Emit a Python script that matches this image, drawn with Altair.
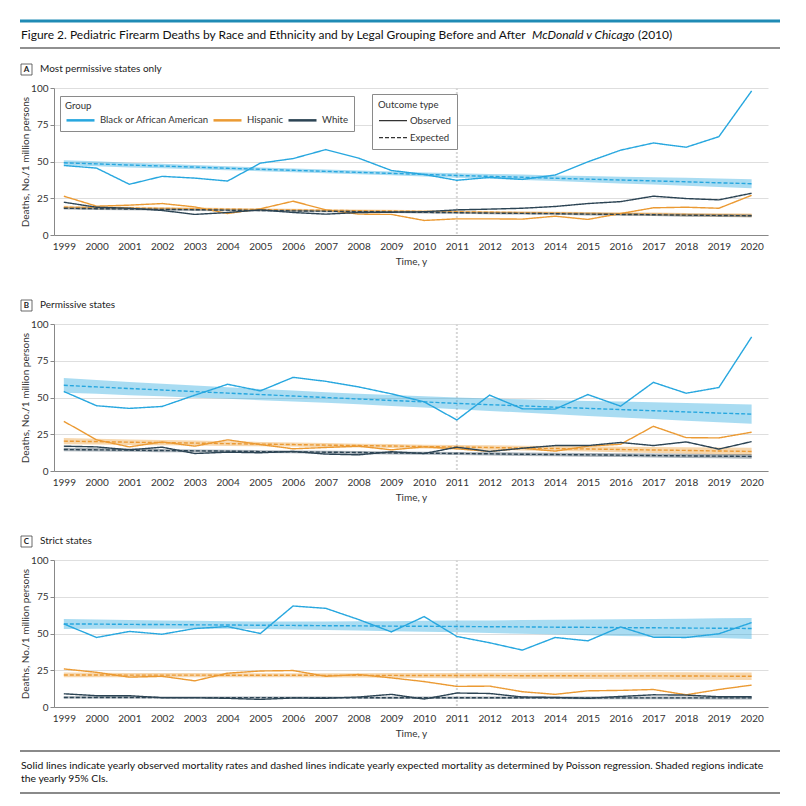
import altair as alt
import pandas as pd

years = list(range(1999, 2021))
groups = ["Black or African American", "Hispanic", "White"]
group_colors = ["#27a7df", "#eb9a33", "#2c4454"]
outcome_types = ["Observed", "Expected"]

# ---- Panel A: Most permissive states only ----
a_black_obs = [47.3, 45.5, 34.5, 39.9, 38.7, 36.7, 48.9, 52.0, 58.1, 52.3, 43.9, 41.2, 37.2, 39.2, 37.8, 40.8, 49.8, 57.7, 62.6, 59.7, 66.9, 98.0]
a_hisp_obs = [26.4, 19.6, 20.3, 21.4, 19.1, 14.6, 17.8, 23.0, 17.1, 14.2, 14.0, 9.9, 11.0, 11.0, 10.8, 12.8, 10.6, 14.6, 18.5, 18.9, 18.2, 27.0]
a_white_obs = [22.3, 18.9, 18.2, 16.7, 14.0, 15.3, 17.1, 15.3, 14.2, 15.3, 15.5, 15.8, 17.1, 17.6, 18.2, 19.4, 21.4, 22.7, 26.4, 24.8, 23.9, 28.4]
a_black_exp = [49.1, 48.4, 47.6, 46.9, 46.2, 45.4, 44.7, 44.0, 43.3, 42.6, 41.9, 41.2, 40.5, 39.9, 39.3, 38.6, 38.0, 37.4, 36.8, 36.2, 35.5, 34.9]
a_hisp_exp = [18.9, 18.6, 18.4, 18.1, 17.8, 17.6, 17.3, 17.0, 16.8, 16.5, 16.3, 16.0, 15.8, 15.5, 15.2, 15.0, 14.7, 14.4, 14.2, 13.9, 13.6, 13.3]
a_white_exp = [18.2, 17.9, 17.7, 17.4, 17.2, 16.9, 16.7, 16.4, 16.2, 15.9, 15.7, 15.4, 15.2, 14.9, 14.7, 14.5, 14.2, 14.0, 13.8, 13.5, 13.3, 13.1]
a_black_ci = [1.8, 1.7, 1.6, 1.5, 1.4, 1.4, 1.3, 1.3, 1.3, 1.3, 1.3, 1.4, 1.5, 1.6, 1.8, 1.9, 2.1, 2.3, 2.5, 2.7, 2.9, 3.1]
a_hisp_ci = [1.0, 1.0, 0.9, 0.9, 0.9, 0.8, 0.8, 0.8, 0.8, 0.8, 0.8, 0.8, 0.8, 0.9, 0.9, 0.9, 1.0, 1.0, 1.1, 1.1, 1.2, 1.3]
a_white_ci = [0.9, 0.9, 0.8, 0.8, 0.8, 0.7, 0.7, 0.7, 0.7, 0.7, 0.7, 0.7, 0.7, 0.8, 0.8, 0.8, 0.9, 0.9, 0.9, 1.0, 1.0, 1.1]

# ---- Panel B: Permissive states ----
b_black_obs = [54.1, 44.4, 42.6, 43.9, 51.6, 59.0, 54.5, 63.7, 61.0, 57.2, 52.5, 47.1, 34.7, 51.6, 42.3, 42.1, 52.0, 44.1, 60.3, 52.9, 56.8, 91.2]
b_hisp_obs = [33.8, 21.2, 16.4, 19.8, 16.9, 21.2, 18.0, 15.1, 16.0, 16.9, 14.4, 16.4, 15.1, 13.3, 15.5, 13.5, 16.9, 18.2, 30.4, 22.7, 22.5, 26.4]
b_white_obs = [16.9, 16.4, 14.4, 16.2, 11.9, 12.8, 12.4, 13.3, 11.5, 11.0, 13.1, 11.9, 16.2, 13.3, 15.5, 17.3, 17.3, 19.4, 17.3, 19.8, 14.9, 20.0]
b_black_exp = [58.3, 57.2, 56.1, 55.1, 54.0, 53.0, 52.0, 51.0, 50.0, 49.0, 48.0, 47.0, 46.0, 45.1, 44.3, 43.4, 42.6, 41.8, 41.0, 40.2, 39.4, 38.7]
b_hisp_exp = [20.3, 20.0, 19.6, 19.3, 19.0, 18.6, 18.3, 18.0, 17.6, 17.3, 17.0, 16.6, 16.3, 16.0, 15.6, 15.3, 15.0, 14.6, 14.3, 14.0, 13.6, 13.3]
b_white_exp = [14.6, 14.4, 14.2, 13.9, 13.7, 13.5, 13.2, 13.0, 12.8, 12.6, 12.3, 12.1, 11.9, 11.7, 11.4, 11.2, 11.0, 10.8, 10.5, 10.3, 10.1, 9.9]
b_black_ci = [5.0, 4.7, 4.5, 4.3, 4.1, 3.9, 3.8, 3.7, 3.6, 3.6, 3.7, 3.8, 4.0, 4.2, 4.5, 4.8, 5.1, 5.4, 5.7, 6.0, 6.3, 6.6]
b_hisp_ci = [2.1, 2.0, 1.9, 1.8, 1.7, 1.6, 1.5, 1.4, 1.4, 1.3, 1.3, 1.3, 1.4, 1.5, 1.6, 1.7, 1.8, 1.9, 2.1, 2.2, 2.4, 2.5]
b_white_ci = [1.2, 1.2, 1.1, 1.1, 1.0, 1.0, 1.0, 1.0, 1.0, 1.0, 1.0, 1.0, 1.1, 1.1, 1.2, 1.2, 1.3, 1.3, 1.4, 1.5, 1.5, 1.6]

# ---- Panel C: Strict states ----
c_black_obs = [56.5, 47.3, 51.4, 49.5, 53.4, 54.7, 50.0, 68.7, 67.1, 59.5, 51.1, 61.5, 48.0, 43.7, 38.7, 47.3, 45.0, 54.5, 47.5, 47.3, 49.8, 57.4]
c_hisp_obs = [25.9, 23.6, 20.3, 20.9, 17.8, 23.0, 24.5, 24.8, 20.9, 22.1, 19.8, 17.3, 14.0, 14.2, 10.4, 8.6, 11.0, 11.3, 11.9, 8.3, 11.9, 14.9]
c_white_obs = [9.0, 7.7, 7.7, 6.3, 6.3, 5.9, 5.2, 6.1, 5.9, 6.8, 8.6, 5.4, 9.5, 9.2, 6.8, 6.5, 5.9, 7.2, 8.3, 8.1, 7.0, 7.0]
c_black_exp = [56.5, 56.4, 56.2, 56.1, 55.9, 55.8, 55.6, 55.5, 55.3, 55.2, 55.0, 54.9, 54.8, 54.6, 54.5, 54.3, 54.2, 54.0, 53.9, 53.7, 53.6, 53.4]
c_hisp_exp = [21.8, 21.8, 21.7, 21.7, 21.7, 21.6, 21.6, 21.6, 21.5, 21.5, 21.5, 21.4, 21.4, 21.4, 21.3, 21.3, 21.2, 21.2, 21.2, 21.1, 21.0, 20.9]
c_white_exp = [6.5, 6.5, 6.5, 6.4, 6.4, 6.4, 6.4, 6.4, 6.4, 6.3, 6.3, 6.3, 6.3, 6.3, 6.3, 6.3, 6.2, 6.2, 6.2, 6.2, 6.2, 6.2]
c_black_ci = [3.4, 3.2, 3.0, 2.8, 2.7, 2.6, 2.6, 2.7, 2.9, 3.1, 3.4, 3.7, 4.0, 4.3, 4.7, 5.0, 5.4, 5.7, 6.0, 6.4, 6.7, 7.1]
c_hisp_ci = [1.6, 1.5, 1.5, 1.4, 1.4, 1.4, 1.4, 1.4, 1.5, 1.5, 1.6, 1.7, 1.8, 1.9, 2.0, 2.1, 2.2, 2.3, 2.4, 2.5, 2.5, 2.6]
c_white_ci = [0.8, 0.8, 0.8, 0.7, 0.7, 0.7, 0.7, 0.7, 0.7, 0.7, 0.8, 0.8, 0.8, 0.9, 0.9, 0.9, 0.9, 1.0, 1.0, 1.0, 1.1, 1.1]

panel_letters = ["A", "B", "C"]
panel_titles = ["Most permissive states only", "Permissive states", "Strict states"]
law_change_year = [2011]

title_parts = [
    "Figure 2. Pediatric Firearm Deaths by Race and Ethnicity and by Legal Grouping Before and After",
    "McDonald v Chicago",
    "(2010)",
]
footer_lines = [
    "Solid lines indicate yearly observed mortality rates and dashed lines indicate yearly expected mortality as determined by Poisson regression. Shaded regions indicate",
    "the yearly 95% CIs.",
]

panel_data = {
    "A": ([a_black_obs, a_hisp_obs, a_white_obs], [a_black_exp, a_hisp_exp, a_white_exp], [a_black_ci, a_hisp_ci, a_white_ci]),
    "B": ([b_black_obs, b_hisp_obs, b_white_obs], [b_black_exp, b_hisp_exp, b_white_exp], [b_black_ci, b_hisp_ci, b_white_ci]),
    "C": ([c_black_obs, c_hisp_obs, c_white_obs], [c_black_exp, c_hisp_exp, c_white_exp], [c_black_ci, c_hisp_ci, c_white_ci]),
}

W, H = 714, 147
FONT = "Lato"

color_scale = alt.Scale(domain=groups, range=group_colors)
dash_scale = alt.Scale(domain=outcome_types, range=[[1, 0], [4, 2]])
x_scale = alt.Scale(domain=[1998.7, 2020.5], nice=False, zero=False)
y_scale = alt.Scale(domain=[0, 100], nice=False)

x_axis = alt.Axis(values=years, format="d", title="Time, y", grid=False, ticks=False,
                  labelPadding=6, titlePadding=5, labelFlush=False, labelOverlap=False)
y_axis = alt.Axis(values=[0, 25, 50, 75, 100], title="Deaths, No./1 million persons",
                  grid=True, tickSize=4, labelPadding=2, titlePadding=0, labelOverlap=False)

# legend line symbol: 28 px long, starting at the entry's left edge (size 100 -> unit = 5 px)
LINE_SYMBOL = "M-1,0H4.6"


def make_panel(idx, with_legend=False, header=False, footer=False):
    letter = panel_letters[idx]
    obs, exp, ci = panel_data[letter]
    line_rows, band_rows = [], []
    for g, o, e, c in zip(groups, obs, exp, ci):
        for yr, ov, ev, cv in zip(years, o, e, c):
            line_rows.append({"year": yr, "group": g, "type": "Observed", "value": ov})
            line_rows.append({"year": yr, "group": g, "type": "Expected", "value": ev})
            band_rows.append({"year": yr, "group": g, "lo": ev - cv, "hi": ev + cv})
    line_df = pd.DataFrame(line_rows)
    band_df = pd.DataFrame(band_rows)

    if with_legend:
        color_legend = alt.Legend(
            orient="none", legendX=6, legendY=8, direction="horizontal", title="Group",
            titleOrient="top", symbolType=LINE_SYMBOL, symbolSize=100, symbolStrokeWidth=2.5,
            strokeColor="#8a8a8a", fillColor="white", padding=5, columnPadding=-1,
            labelOffset=22, labelFont=FONT, labelFontSize=9.6, labelColor="#333",
            titleFont=FONT, titleFontSize=9.6, titleFontWeight="normal", titleColor="#333",
            titlePadding=3, labelLimit=300,
        )
        dash_legend = alt.Legend(
            orient="none", legendX=318, legendY=6, direction="vertical", title="Outcome type",
            symbolType=LINE_SYMBOL, symbolSize=100, symbolStrokeWidth=1.2, symbolStrokeColor="#333",
            strokeColor="#8a8a8a", fillColor="white", padding=6, rowPadding=6,
            labelOffset=20, labelFont=FONT, labelFontSize=9.6, labelColor="#333",
            titleFont=FONT, titleFontSize=9.6, titleFontWeight="normal", titleColor="#333",
            titlePadding=5,
        )
    else:
        color_legend = None
        dash_legend = None

    band = alt.Chart(band_df).mark_area(opacity=0.4).encode(
        x=alt.X("year:Q", scale=x_scale, axis=x_axis),
        y=alt.Y("lo:Q", scale=y_scale, axis=y_axis),
        y2="hi:Q",
        fill=alt.Fill("group:N", scale=color_scale, legend=None),
    )
    rule = alt.Chart(pd.DataFrame({"year": law_change_year})).mark_rule(
        color="#d6d6d6", strokeWidth=2, strokeDash=[2, 2]
    ).encode(x=alt.X("year:Q", scale=x_scale, axis=x_axis))
    lines = alt.Chart(line_df).mark_line(strokeWidth=1.4).encode(
        x=alt.X("year:Q", scale=x_scale, axis=x_axis),
        y=alt.Y("value:Q", scale=y_scale, axis=y_axis),
        color=alt.Color("group:N", scale=color_scale, legend=color_legend),
        strokeDash=alt.StrokeDash("type:N", scale=dash_scale, legend=dash_legend),
    )

    lab_df = pd.DataFrame({"letter": [letter], "label": [panel_titles[idx]]})
    box = alt.Chart(lab_df).mark_rect(fill="white", stroke="#444", strokeWidth=0.8).encode(
        x=alt.value(-33), x2=alt.value(-22), y=alt.value(-24), y2=alt.value(-13))
    let = alt.Chart(lab_df).mark_text(font=FONT, fontWeight="bold", fontSize=8,
                                       align="center", baseline="middle", color="#222").encode(
        x=alt.value(-27.5), y=alt.value(-18.5), text="letter:N")
    lab = alt.Chart(lab_df).mark_text(font=FONT, fontSize=10, align="left",
                                       baseline="middle", color="#222").encode(
        x=alt.value(-14), y=alt.value(-19), text="label:N")

    layers = [rule, band, lines, box, let, lab]

    if header:
        hdf = pd.DataFrame({"p1": [title_parts[0]], "p2": [title_parts[1]], "p3": [title_parts[2]]})
        layers += [
            alt.Chart(hdf).mark_rule(color="#1f8bb5", strokeWidth=3).encode(
                x=alt.value(-34), x2=alt.value(726), y=alt.value(-67)),
            alt.Chart(hdf).mark_rule(color="#222", strokeWidth=1.2).encode(
                x=alt.value(-34), x2=alt.value(726), y=alt.value(-40)),
            alt.Chart(hdf).mark_text(font=FONT, fontSize=12, align="left", baseline="middle",
                                     color="#111").encode(x=alt.value(-33), y=alt.value(-53), text="p1:N"),
            alt.Chart(hdf).mark_text(font=FONT, fontSize=12, fontStyle="italic", align="left",
                                     baseline="middle", color="#111").encode(
                x=alt.value(478), y=alt.value(-53), text="p2:N"),
            alt.Chart(hdf).mark_text(font=FONT, fontSize=12, align="left", baseline="middle",
                                     color="#111").encode(x=alt.value(584), y=alt.value(-53), text="p3:N"),
        ]
    if footer:
        fdf = pd.DataFrame({"l1": [footer_lines[0]], "l2": [footer_lines[1]]})
        layers += [
            alt.Chart(fdf).mark_rule(color="#8a8a8a", strokeWidth=2).encode(
                x=alt.value(-34), x2=alt.value(726), y=alt.value(191)),
            alt.Chart(fdf).mark_rule(color="#8a8a8a", strokeWidth=2).encode(
                x=alt.value(-34), x2=alt.value(726), y=alt.value(233)),
            alt.Chart(fdf).mark_text(font=FONT, fontSize=10.4, align="left", baseline="middle",
                                     color="#111").encode(x=alt.value(-33), y=alt.value(206), text="l1:N"),
            alt.Chart(fdf).mark_text(font=FONT, fontSize=10.4, align="left", baseline="middle",
                                     color="#111").encode(x=alt.value(-33), y=alt.value(219), text="l2:N"),
        ]

    return alt.layer(*layers).properties(width=W, height=H)


chart = alt.vconcat(
    make_panel(0, with_legend=True, header=True),
    make_panel(1),
    make_panel(2, footer=True),
    spacing=33,
).resolve_legend(color="independent", strokeDash="independent").properties(
    padding={"left": 10, "top": 11, "right": 5, "bottom": 5}
).configure_view(stroke=None).configure_axis(
    labelFont=FONT, labelFontSize=10, labelColor="#333", titleFont=FONT, titleFontSize=10,
    titleFontWeight="normal", titleColor="#333", domainColor="#888", tickColor="#888",
    gridColor="#dedede", labelOverlap=False,
)

chart.save("out.html", embed_options={"renderer": "svg", "actions": False})
